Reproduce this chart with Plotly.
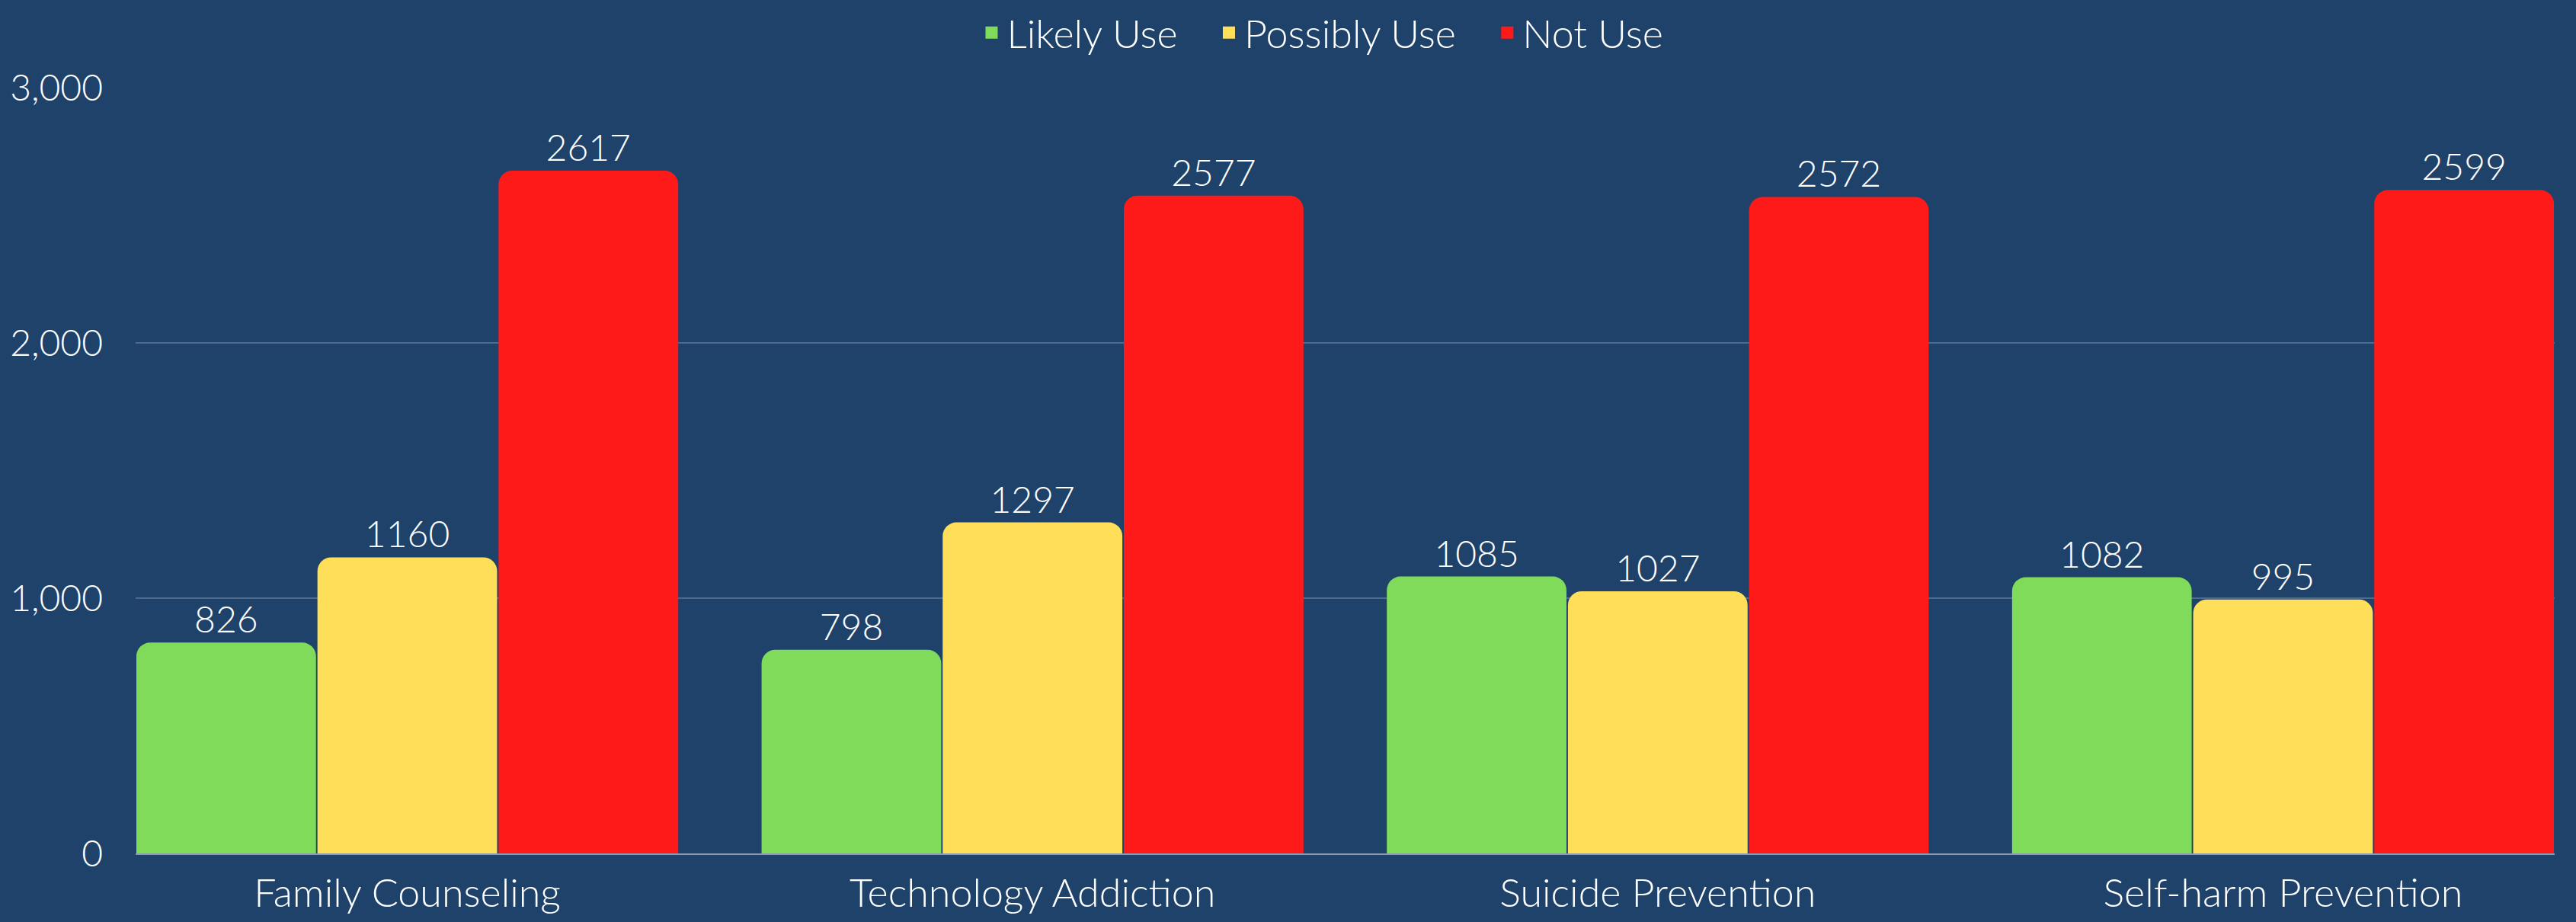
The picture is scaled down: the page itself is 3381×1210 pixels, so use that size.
import plotly.graph_objects as go

categories = ["Family Counseling", "Technology Addiction", "Suicide Prevention", "Self-harm Prevention"]
likely_use = [826, 798, 1085, 1082]
possibly_use = [1160, 1297, 1027, 995]
not_use = [2617, 2577, 2572, 2599]
# bar heights as drawn in the reference (the first red bar is drawn taller than its label)
not_use_drawn = [2675, 2577, 2572, 2599]
series_names = ["Likely Use", "Possibly Use", "Not Use"]
colors = ["#7FDB59", "#FFDF59", "#FF1A1A"]

FONT = "Lato"
W = 300
BG = "#1E426A"
BARGAP = 0.131

fig = go.Figure()
for name, vals, labels, col in zip(series_names,
                                   [likely_use, possibly_use, not_use_drawn],
                                   [likely_use, possibly_use, not_use], colors):
    fig.add_trace(go.Bar(
        x=categories, y=vals, name=name, showlegend=False,
        marker=dict(color=col, line=dict(width=0), cornerradius=18),
        text=[str(v) for v in labels], textposition="outside",
        textfont=dict(color="white", size=48, family=FONT, weight=W),
        cliponaxis=False,
    ))
# legend entries (square swatches)
for name, col in zip(series_names, colors):
    fig.add_trace(go.Scatter(
        x=[None], y=[None], mode="markers", name=name + "\u00a0\u00a0\u00a0",
        marker=dict(symbol="square", color=col, size=22),
    ))

fig.update_layout(
    width=3381, height=1210,
    paper_bgcolor=BG, plot_bgcolor=BG,
    barmode="group", bargap=BARGAP, bargroupgap=0.008,
    margin=dict(l=178, r=28, t=115, b=90, autoexpand=False),
    font=dict(family=FONT, color="white", size=50, weight=W),
    legend=dict(orientation="h", x=0.497, xanchor="center", y=0.998, yanchor="top",
                yref="container", font=dict(size=52, family=FONT, color="white", weight=W),
                itemwidth=30, itemsizing="trace", traceorder="normal", bgcolor="rgba(0,0,0,0)"),
    showlegend=True,
)
half = (1 - BARGAP) / 2
fig.update_xaxes(range=[-half, len(categories) - 1 + half], showgrid=False, showline=True,
                 linecolor="#8A9BB0", linewidth=2, ticks="", ticklabelstandoff=6,
                 automargin=False,
                 tickfont=dict(size=52, color="white", family=FONT, weight=W))
fig.update_yaxes(range=[0, 3000], tickvals=[0, 1000, 2000, 3000], tickformat=",",
                 showgrid=True, gridcolor="#4E6B8E", gridwidth=2, zeroline=False,
                 showline=False, ticks="", ticklabelstandoff=42, automargin=False,
                 tickfont=dict(size=48, color="white", family=FONT, weight=W))

fig.write_html("out.html", config={"displayModeBar": False},
               post_script="document.body.style.margin='0';document.body.style.background='%s';" % BG)
